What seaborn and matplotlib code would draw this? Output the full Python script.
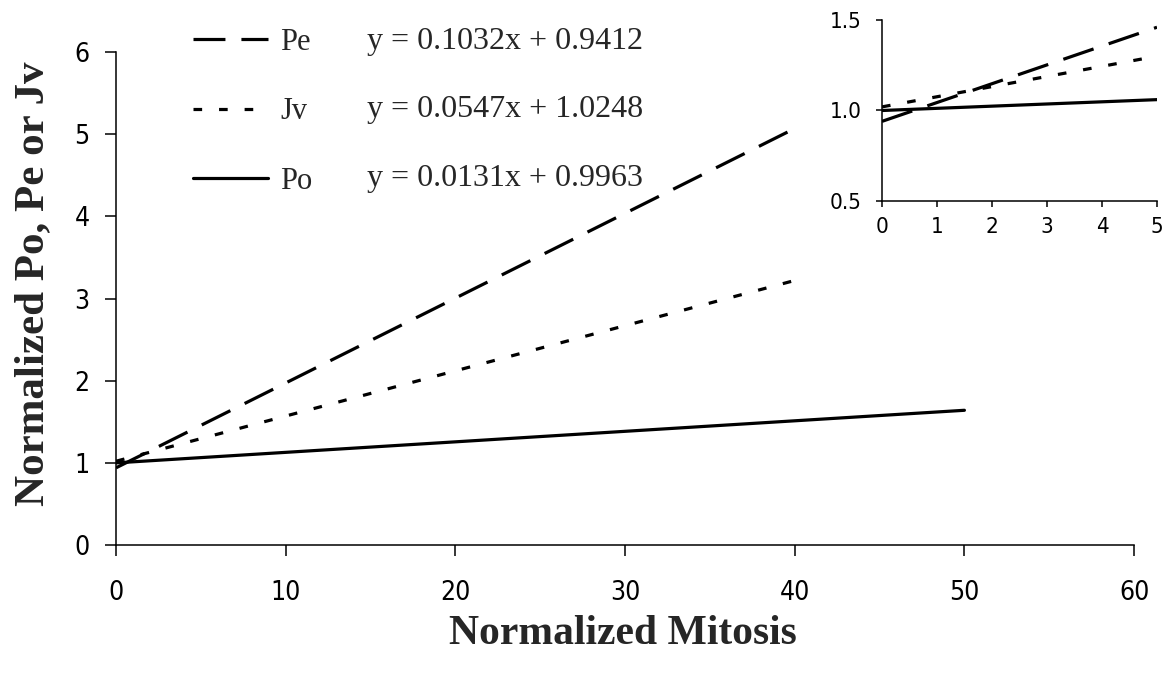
import matplotlib
matplotlib.use("Agg")
import matplotlib.pyplot as plt
from matplotlib.lines import Line2D
from matplotlib import font_manager as fm
import seaborn as sns
import pandas as pd

# ---------------- data ----------------
series_names = ["Pe", "Jv", "Po"]
equations = ["y = 0.1032x + 0.9412", "y = 0.0547x + 1.0248", "y = 0.0131x + 0.9963"]

pe_x = [0, 40]
pe_y = [0.94, 5.07]
jv_x = [0, 40]
jv_y = [1.02, 3.22]
po_x = [0, 50]
po_y = [1.00, 1.64]

inset_x = [0, 5]
pe_inset_y = [0.94, 1.46]
jv_inset_y = [1.02, 1.30]
po_inset_y = [1.00, 1.06]

main_xticks = [0, 10, 20, 30, 40, 50, 60]
main_yticks = [0, 1, 2, 3, 4, 5, 6]
inset_xticks = [0, 1, 2, 3, 4, 5]
inset_yticks = [0.5, 1.0, 1.5]
inset_yticklabels = ["0.5", "1.0", "1.5"]

x_label = "Normalized Mitosis"
y_label = "Normalized Po, Pe or Jv"

# ---------------- style ----------------
sns.set_style("ticks")
plt.rcParams["font.family"] = ["Liberation Serif", "DejaVu Serif"]
SERIF = ["Liberation Serif", "DejaVu Serif"]


def tick_font(size):
    return fm.FontProperties(family="DejaVu Sans", stretch="condensed", size=size)


dash_styles = {"Pe": (10, 5), "Jv": (2.7, 5.3), "Po": ""}
LW = 2.3

main_df = pd.concat([
    pd.DataFrame({"x": pe_x, "y": pe_y, "series": "Pe"}),
    pd.DataFrame({"x": jv_x, "y": jv_y, "series": "Jv"}),
    pd.DataFrame({"x": po_x, "y": po_y, "series": "Po"}),
], ignore_index=True)

inset_df = pd.concat([
    pd.DataFrame({"x": inset_x, "y": pe_inset_y, "series": "Pe"}),
    pd.DataFrame({"x": inset_x, "y": jv_inset_y, "series": "Jv"}),
    pd.DataFrame({"x": inset_x, "y": po_inset_y, "series": "Po"}),
], ignore_index=True)

fig = plt.figure(figsize=(11.64, 6.83), dpi=100)
fig.patch.set_facecolor("white")

# ---------------- main axes ----------------
ax = fig.add_axes([0.0997, 0.202, 0.8746, 0.7218])
sns.lineplot(data=main_df, x="x", y="y", style="series", dashes=dash_styles,
             color="black", lw=LW, legend=False, ax=ax, sort=False)
ax.set_xlim(0, 60)
ax.set_ylim(0, 6)
ax.set_xticks(main_xticks)
ax.set_yticks(main_yticks)
ax.set_xticklabels([str(v) for v in main_xticks], fontproperties=tick_font(19))
ax.set_yticklabels([str(v) for v in main_yticks], fontproperties=tick_font(19))
ax.tick_params(axis="x", direction="out", length=8, width=1.1, pad=17, colors="black")
ax.tick_params(axis="y", direction="out", length=8, width=1.1, pad=11, colors="black")
for s in ["left", "bottom"]:
    ax.spines[s].set_linewidth(1.1)
    ax.spines[s].set_color("black")
sns.despine(ax=ax)
ax.set_xlabel(x_label, family=SERIF, fontsize=30, fontweight="bold")
ax.set_ylabel(y_label, family=SERIF, fontsize=31, fontweight="bold")
ax.xaxis.set_label_coords(0.498, -0.142)
ax.yaxis.set_label_coords(-0.063, 0.531)

# ---------------- legend + equations ----------------
handles = [Line2D([], [], color="black", lw=LW, dashes=dash_styles[n]) if dash_styles[n]
           else Line2D([], [], color="black", lw=LW) for n in series_names]
fig.legend(handles, series_names, loc="upper left", bbox_to_anchor=(193 / 1164, 1 - 28 / 683),
           frameon=False, prop={"family": SERIF, "size": 22}, handlelength=2.45,
           handletextpad=0.4, labelspacing=1.32, borderpad=0, borderaxespad=0)
for i, eq in enumerate(equations):
    fig.text(367 / 1164, 1 - (42 + 68 * i) / 683, eq, family=SERIF, fontsize=23,
             ha="left", va="center")

# ---------------- inset ----------------
axi = fig.add_axes([882 / 1164, 1 - 201 / 683, 275 / 1164, 181 / 683])
sns.lineplot(data=inset_df, x="x", y="y", style="series", dashes=dash_styles,
             color="black", lw=LW, legend=False, ax=axi, sort=False)
axi.set_xlim(0, 5)
axi.set_ylim(0.5, 1.5)
axi.set_xticks(inset_xticks)
axi.set_yticks(inset_yticks)
axi.set_xticklabels([str(v) for v in inset_xticks], fontproperties=tick_font(16))
axi.set_yticklabels(inset_yticklabels, fontproperties=tick_font(16))
axi.tick_params(axis="x", direction="out", length=4.5, width=1.1, pad=7, colors="black")
axi.tick_params(axis="y", direction="out", length=4.5, width=1.1, pad=10, colors="black")
for s in ["left", "bottom"]:
    axi.spines[s].set_linewidth(1.1)
    axi.spines[s].set_color("black")
sns.despine(ax=axi)
axi.set_xlabel("")
axi.set_ylabel("")
axi.patch.set_alpha(0)

fig.savefig("out.png", dpi=100, facecolor="white")
